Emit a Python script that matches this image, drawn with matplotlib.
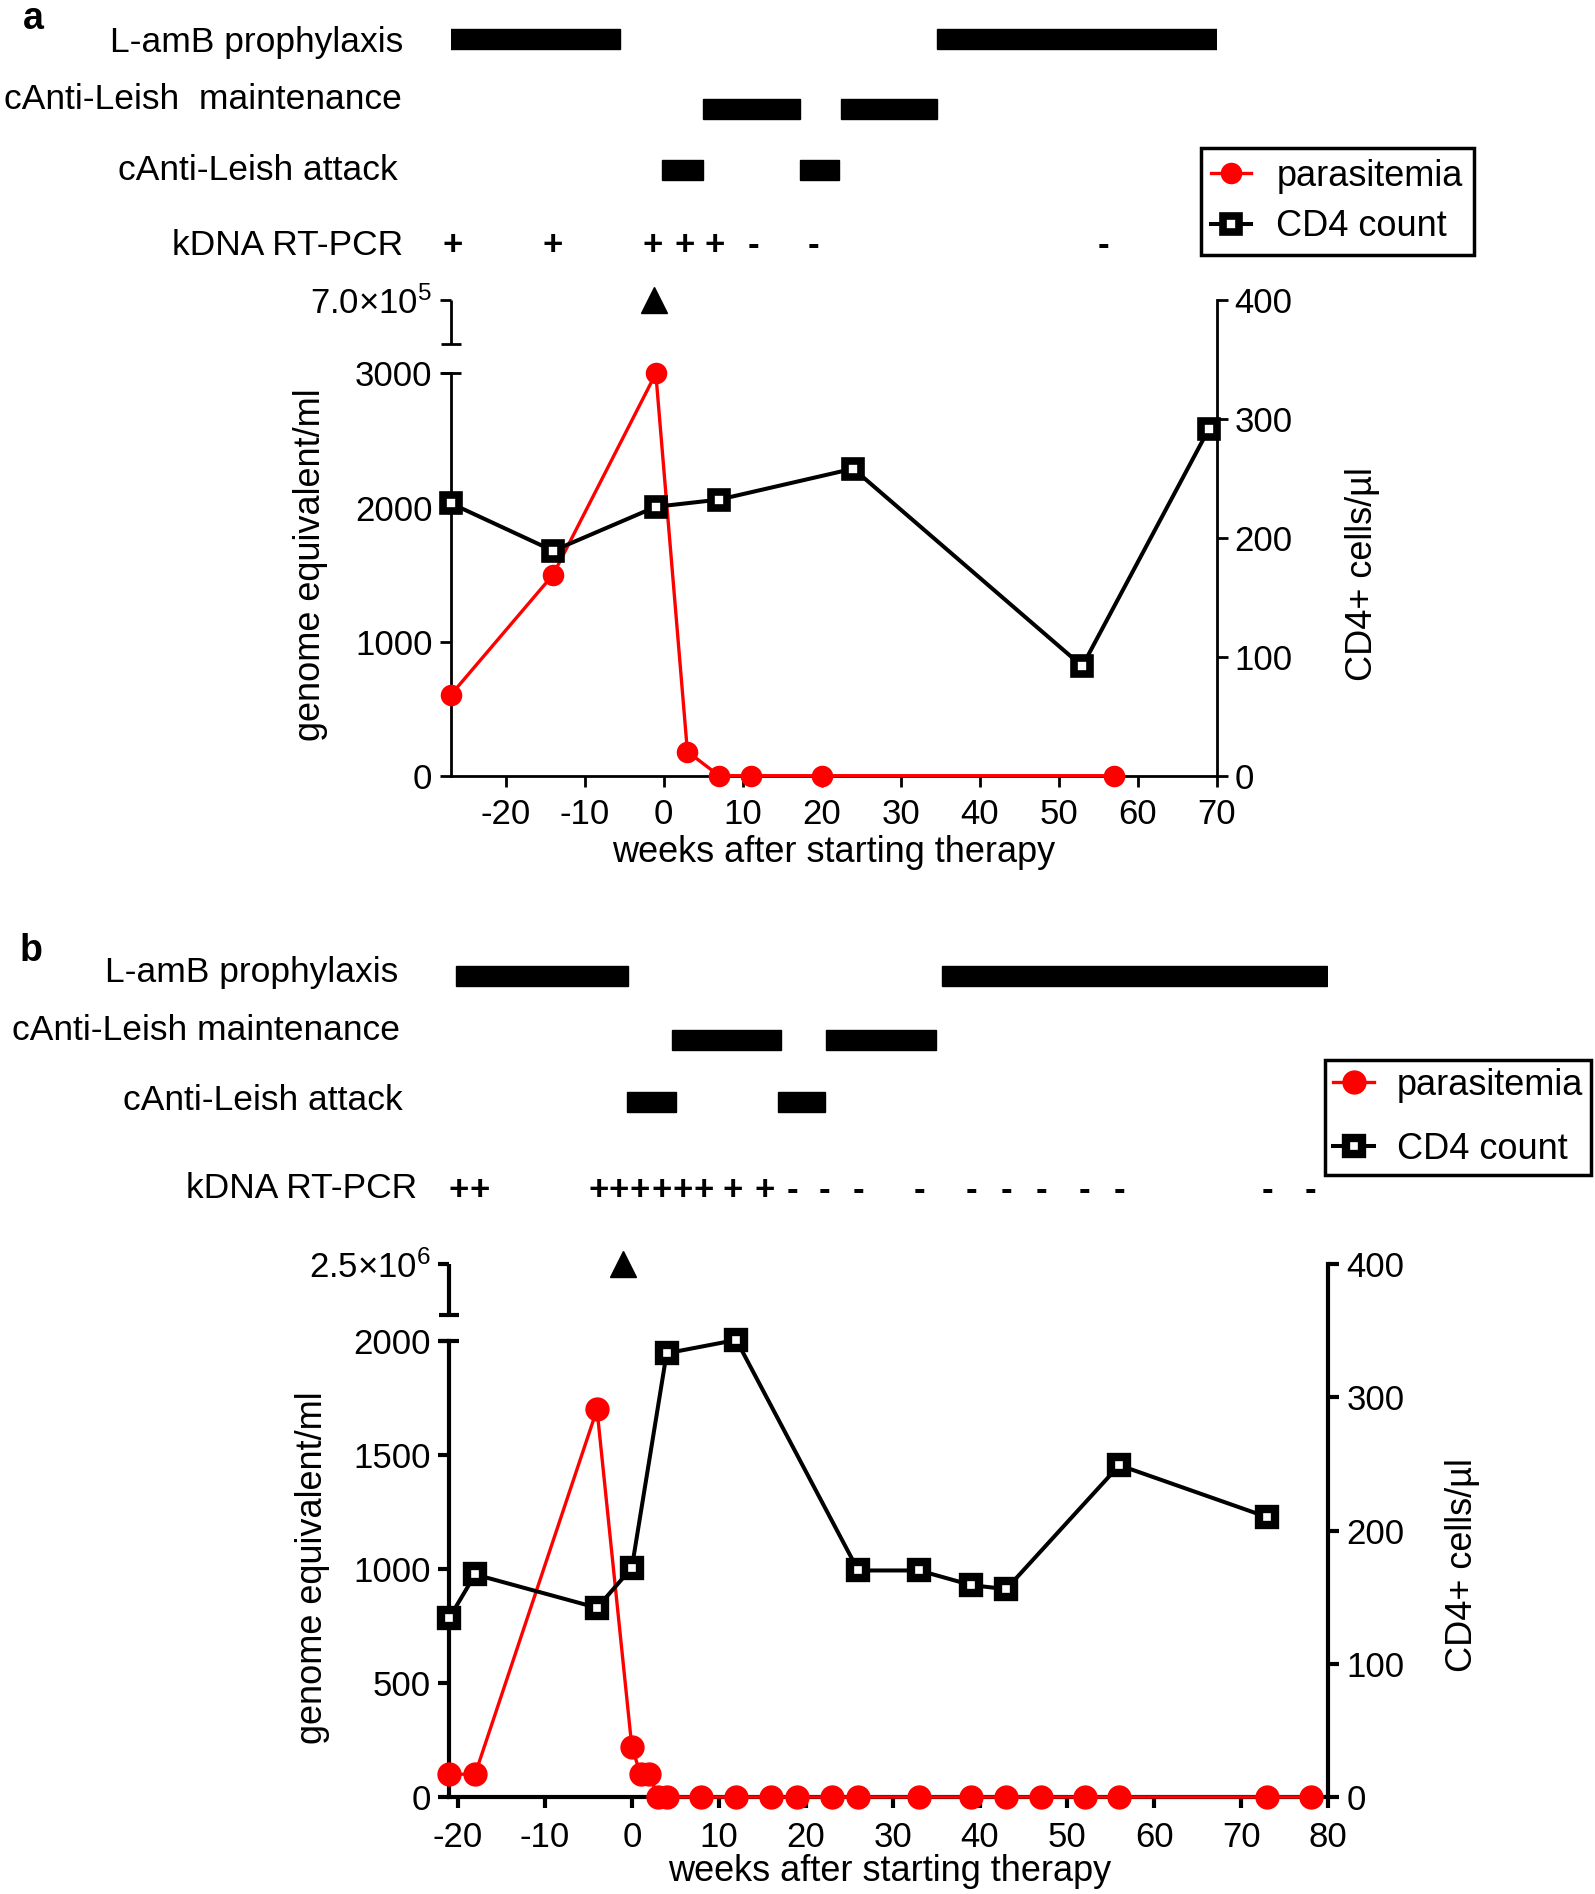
import matplotlib
matplotlib.use('Agg')
import matplotlib.pyplot as plt

plt.rcParams['font.family'] = ['Liberation Sans', 'DejaVu Sans']
plt.rcParams['mathtext.default'] = 'regular'

W, H, DPI = 1595, 1894, 100

# ---------------- data: panel a ----------------
a_par_weeks = [-27, -14, -1, 3, 7, 11, 20, 57]
a_par_vals = [600, 1500, 3000, 180, 0, 0, 0, 0]
a_cd4_weeks = [-27, -14, -1, 7, 24, 53, 69]
a_cd4_vals = [229, 189, 226, 232, 258, 92, 291]
a_triangle_week = -1.2
a_lamb = [(-27.3, -5.5), (34.6, 70.2)]
a_maint = [(5.0, 17.2), (22.4, 34.6)]
a_attack = [(-0.2, 5.0), (17.2, 22.2)]
a_kdna_weeks = [-26.7, -14.1, -1.4, 2.6, 6.4, 11.3, 19.0, 55.7]
a_kdna = ['+', '+', '+', '+', '+', '-', '-', '-']
a_xticks = [-20, -10, 0, 10, 20, 30, 40, 50, 60, 70]
a_yticks = [0, 1000, 2000, 3000]
a_top_label = '7.0\u00d710$^{5}$'
a_rticks = [0, 100, 200, 300, 400]

# ---------------- data: panel b ----------------
b_par_weeks = [-21, -18, -4, 0, 1, 2, 3, 4, 8, 12, 16, 19, 23, 26, 33, 39, 43, 47, 52, 56, 73, 78]
b_par_vals = [100, 100, 1700, 220, 100, 100, 0, 0, 0, 0, 0, 0, 0, 0, 0, 0, 0, 0, 0, 0, 0, 0]
b_cd4_weeks = [-21, -18, -4, 0, 4, 12, 26, 33, 39, 43, 56, 73]
b_cd4_vals = [134, 167, 142, 172, 333, 343, 170, 170, 159, 156, 249, 210]
b_triangle_week = -1
b_lamb = [(-20.2, -0.4), (35.6, 79.9)]
b_maint = [(4.6, 17.1), (22.3, 34.9)]
b_attack = [(-0.5, 5.1), (16.8, 22.2)]
b_kdna_weeks = [-19.9, -17.5, -3.8, -1.5, 0.9, 3.4, 5.8, 8.2, 11.6, 15.2,
                18.4, 22.1, 26.0, 33.0, 39.0, 43.0, 47.0, 52.0, 56.0, 73.0, 78.0]
b_kdna = ['+'] * 10 + ['-'] * 11
b_xticks = [-20, -10, 0, 10, 20, 30, 40, 50, 60, 70, 80]
b_yticks = [0, 500, 1000, 1500, 2000]
b_top_label = '2.5\u00d710$^{6}$'
b_rticks = [0, 100, 200, 300, 400]

row_labels_a = ['L-amB prophylaxis', 'cAnti-Leish  maintenance', 'cAnti-Leish attack', 'kDNA RT-PCR']
row_labels_b = ['L-amB prophylaxis', 'cAnti-Leish maintenance', 'cAnti-Leish attack', 'kDNA RT-PCR']
series_names = ['parasitemia', 'CD4 count']

RED = '#ff0000'
FS = 25     # tick labels
FL = 26     # axis labels / legend
FR = 25.5   # row labels

fig = plt.figure(figsize=(W / DPI, H / DPI), dpi=DPI)


def fx(px):
    return px / W


def fy(py):
    return 1 - py / H


def rect(l, t, r, b):
    return [fx(l), fy(b), (r - l) / W, (b - t) / H]


def panel(box, xlim, ytick_vals, ytop_px_of_last, top_label, xticks, rticks,
          par_w, par_v, cd4_w, cd4_v, tri_w, cap_px, lw, circ_ms, sq_ms, sq_mew, xpad):
    l, t, r, b = box
    ax = fig.add_axes(rect(l, t, r, b))
    ax.set_xlim(*xlim)
    ymax_tick = ytick_vals[-1]
    ytop = ymax_tick * (b - t) / (b - ytop_px_of_last)
    ycap = ymax_tick * (b - cap_px) / (b - ytop_px_of_last)
    ax.set_ylim(0, ytop)
    for s in ['top', 'right']:
        ax.spines[s].set_visible(False)
    ax.spines['left'].set_bounds(0, ymax_tick)
    for s in ['left', 'bottom']:
        ax.spines[s].set_linewidth(lw)
    ax.set_yticks(list(ytick_vals) + [ytop])
    ax.set_yticklabels([str(v) for v in ytick_vals] + [top_label], fontsize=FS)
    ax.set_xticks(xticks)
    ax.set_xticklabels([str(v) for v in xticks], fontsize=FS)
    ax.tick_params(direction='out', length=8, width=lw, pad=5)
    ax.tick_params(axis='x', pad=xpad)
    # broken upper segment of left axis
    x0 = xlim[0]
    ax.plot([x0, x0], [ycap, ytop], color='k', lw=lw, clip_on=False, solid_capstyle='butt')
    ax.plot([x0, x0], [ycap, ymax_tick], color='k', lw=0, marker='_', ms=15, mew=lw, clip_on=False)

    ax2 = ax.twinx()
    ax2.set_xlim(*xlim)
    ax2.set_ylim(0, rticks[-1])
    for s in ['top', 'left', 'bottom']:
        ax2.spines[s].set_visible(False)
    ax2.spines['right'].set_linewidth(lw)
    ax2.set_yticks(rticks)
    ax2.set_yticklabels([str(v) for v in rticks], fontsize=FS)
    ax2.tick_params(direction='out', length=8, width=lw, pad=5)

    lp, = ax.plot(par_w, par_v, color=RED, lw=2.4, marker='o', ms=circ_ms,
                  mfc=RED, mec=RED, clip_on=False, zorder=3)
    lc, = ax2.plot(cd4_w, cd4_v, color='k', lw=2.9, marker='s', ms=sq_ms,
                   mfc='white', mec='k', mew=sq_mew, clip_on=False, zorder=3)
    ax.plot([tri_w], [ytop], marker='^', ms=19, color='k', lw=0, clip_on=False, zorder=5)
    return ax, ax2, lp, lc


def timeline(box_lr, top_px, bottom_px, xlim, rows, kdna_w, kdna_s, kdna_y, bar_h=20):
    l, r = box_lr
    axt = fig.add_axes(rect(l, top_px, r, bottom_px))
    axt.set_xlim(*xlim)
    axt.set_ylim(bottom_px, top_px)
    axt.axis('off')
    for segs, yc in rows:
        for s0, s1 in segs:
            axt.barh(yc, s1 - s0, left=s0, height=bar_h, color='k', edgecolor='k')
    for w, s in zip(kdna_w, kdna_s):
        axt.text(w, kdna_y, s, ha='center', va='center', fontsize=FS, fontweight='bold')
    return axt


def row_text(labels, xs, baselines):
    for lab, xr, yb in zip(labels, xs, baselines):
        fig.text(fx(xr), fy(yb), lab, ha='right', va='baseline', fontsize=FR)


# ---------------- panel a ----------------
axA, axA2, lpA, lcA = panel((450.5, 299.7, 1216.5, 775.7), (-27, 70), a_yticks, 373.5, a_top_label,
                            a_xticks, a_rticks, a_par_weeks, a_par_vals, a_cd4_weeks, a_cd4_vals,
                            a_triangle_week, 344.3, 2.0, 14.5, 12, 5.5, 8)
timeline((450.5, 1216.5), 0, 299.7, (-27, 70),
         [(a_lamb, 39.3), (a_maint, 109.0), (a_attack, 169.8)],
         a_kdna_weeks, a_kdna, 245)
row_text(row_labels_a, [403, 402, 398, 403], [51.7, 109.3, 180, 255])
fig.text(fx(23), fy(1), 'a', fontsize=27, fontweight='bold', ha='left', va='top')
fig.text(fx(310), fy(565), 'genome equivalent/ml', rotation=90, ha='center', va='center', fontsize=FL)
fig.text(fx(1362), fy(574), 'CD4+ cells/\u00b5l', rotation=90, ha='center', va='center', fontsize=FL)
fig.text(fx(834), fy(852), 'weeks after starting therapy', ha='center', va='center', fontsize=FL)
legA = fig.legend([lpA, lcA], series_names, loc='upper left', bbox_to_anchor=(fx(1200.6), fy(148.3)),
                  bbox_transform=fig.transFigure, borderaxespad=0, fancybox=False, framealpha=1,
                  edgecolor='k', fontsize=FL, handlelength=1.1, handletextpad=0.7,
                  borderpad=0.3, labelspacing=0.42, numpoints=1)
legA.get_frame().set_linewidth(2.5)

# ---------------- panel b ----------------
axB, axB2, lpB, lcB = panel((449, 1264, 1328.3, 1797), (-21, 80), b_yticks, 1341, b_top_label,
                            b_xticks, b_rticks, b_par_weeks, b_par_vals, b_cd4_weeks, b_cd4_vals,
                            b_triangle_week, 1314.5, 3.0, 16.5, 12, 6, 9)
timeline((449, 1328.3), 900, 1264, (-21, 80),
         [(b_lamb, 976.3), (b_maint, 1040.3), (b_attack, 1102.2)],
         b_kdna_weeks, b_kdna, 1190)
row_text(row_labels_b, [398, 399.5, 403, 417], [981.7, 1040, 1110, 1198.3])
fig.text(fx(20), fy(933), 'b', fontsize=27, fontweight='bold', ha='left', va='top')
fig.text(fx(312), fy(1568), 'genome equivalent/ml', rotation=90, ha='center', va='center', fontsize=FL)
fig.text(fx(1462), fy(1565), 'CD4+ cells/\u00b5l', rotation=90, ha='center', va='center', fontsize=FL)
fig.text(fx(890), fy(1871.7), 'weeks after starting therapy', ha='center', va='center', fontsize=FL)
legB = fig.legend([lpB, lcB], series_names, loc='upper left', bbox_to_anchor=(fx(1324.8), fy(1060)),
                  bbox_transform=fig.transFigure, borderaxespad=0, fancybox=False, framealpha=1,
                  edgecolor='k', fontsize=FL, handlelength=1.15, handletextpad=0.62,
                  borderpad=0.22, labelspacing=0.8, numpoints=1)
legB.get_frame().set_linewidth(2.5)

fig.savefig('out.png', dpi=DPI)
